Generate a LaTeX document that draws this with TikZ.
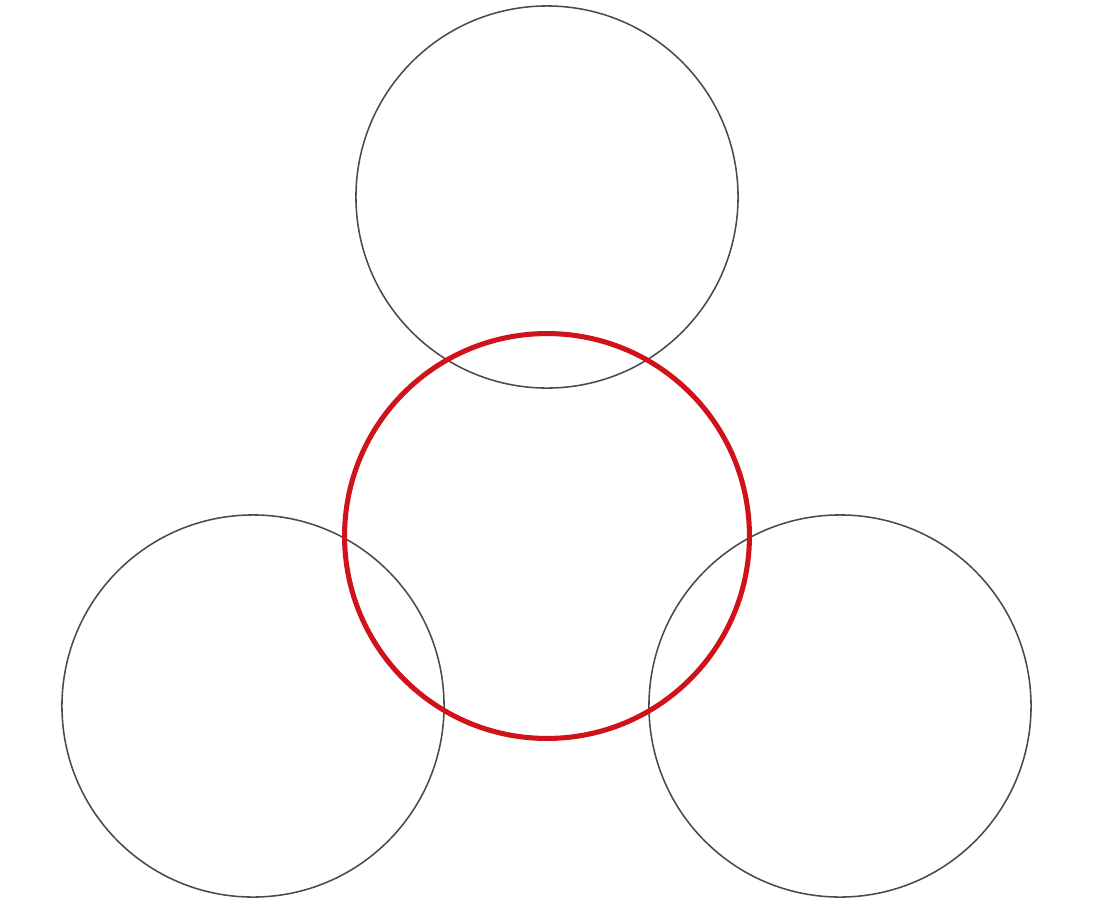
\documentclass[tikz,border=0pt]{standalone}
\usetikzlibrary{positioning}
\definecolor{ringgray}{HTML}{4A4A4A}
\definecolor{ringred}{HTML}{D0121B}
\tikzset{
  ring/.style={circle, draw=ringgray, line width=1.1pt, inner sep=0pt, minimum size=9.55cm},
  core/.style={circle, draw=ringred, line width=3.6pt, inner sep=0pt, minimum size=10.12cm}
}
\begin{document}
\begin{tikzpicture}[x=0.025cm,y=-0.025cm]
\useasboundingbox (0,0) rectangle (1094,910);
\node[ring] (top) at (547,197) {};
\node[ring] (left) at (253,706) {};
\node[ring] (right) at (840,706) {};
\node[core] (mid) at (547,536) {};
\end{tikzpicture}
\end{document}
